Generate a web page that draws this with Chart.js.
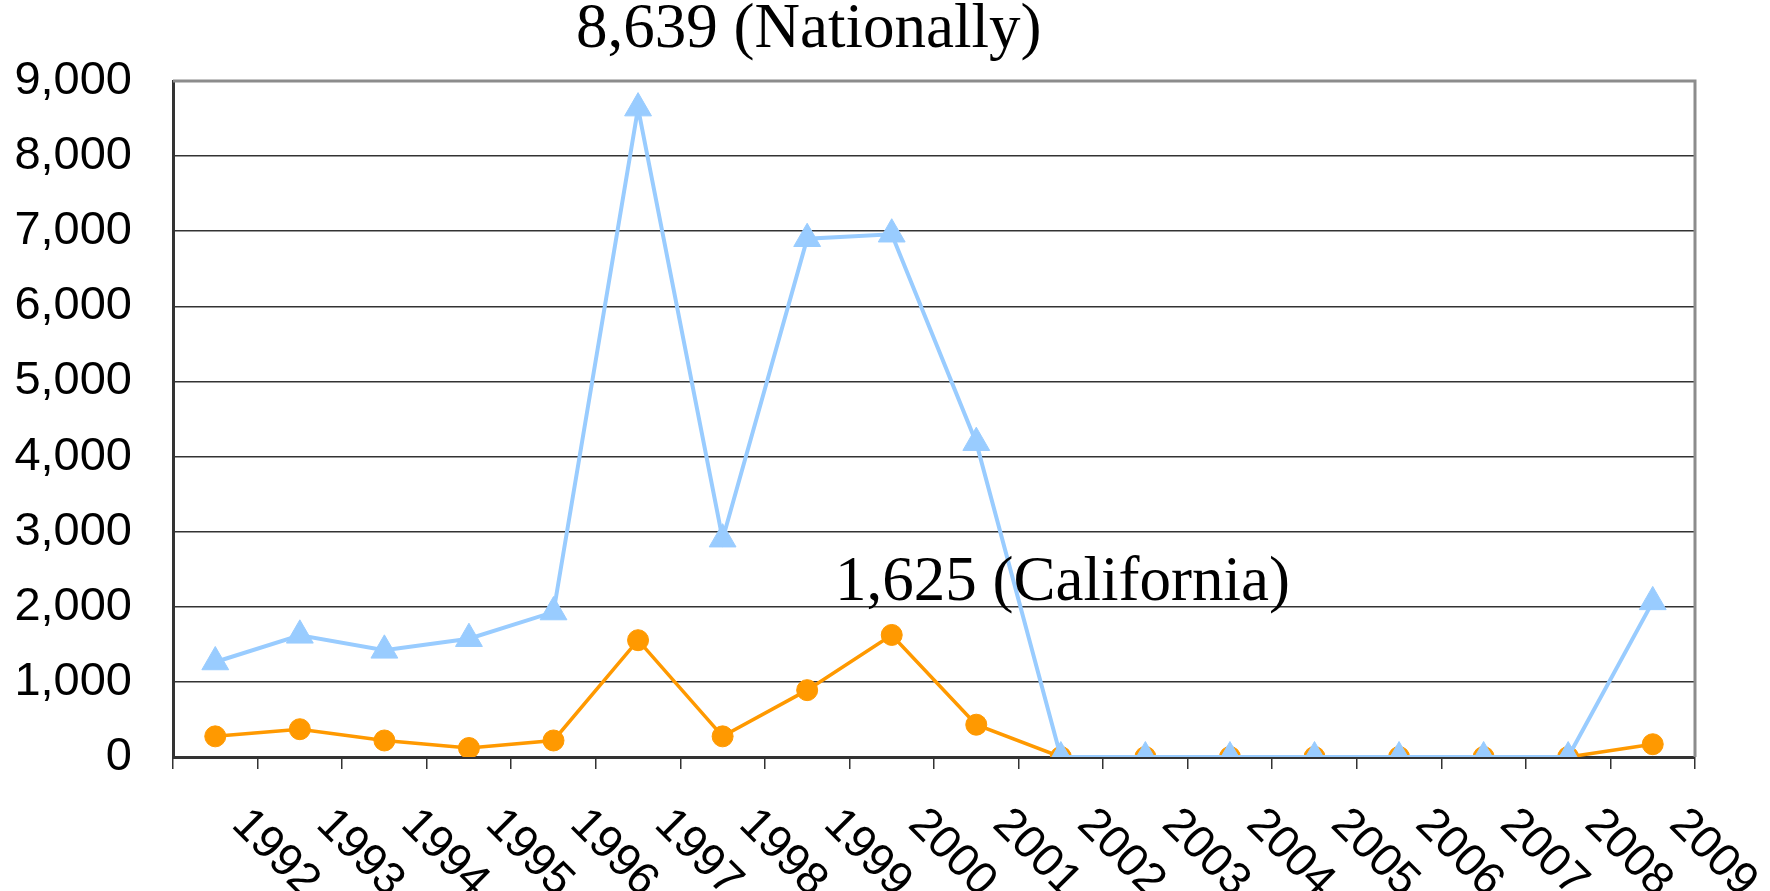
<!DOCTYPE html>
<html>
<head>
<meta charset="utf-8">
<style>
  html, body { margin: 0; padding: 0; background: #fff; }
  #wrap { width: 1770px; height: 891px; position: relative; }
</style>
</head>
<body>
<div id="wrap"><canvas id="grafico"></canvas></div>

<script src="https://cdn.jsdelivr.net/npm/chart.js"></script>
<script>
// Dados
const anos = ['1992','1993','1994','1995','1996','1997','1998','1999','2000',
              '2001','2002','2003','2004','2005','2006','2007','2008','2009'];
const nacional = [1265, 1620, 1420, 1575, 1930, 8639, 2900, 6900, 6960,
                  4185, 0, 0, 0, 0, 0, 0, 0, 2065];
const california = [275, 370, 220, 120, 220, 1555, 275, 890, 1625,
                    430, 0, 0, 0, 0, 0, 0, 0, 170];
const yTicks = [0, 1000, 2000, 3000, 4000, 5000, 6000, 7000, 8000, 9000];
const notas = ['8,639 (Nationally)', '1,625 (California)'];

const fonteEixoX = '46px "Liberation Sans", Arial, sans-serif';
const fonteNota = '63px "Liberation Serif", "Times New Roman", serif';

// Bordas superior e direita em cinza, como no Excel
const bordaPlugin = {
  id: 'borda',
  afterDraw(chart) {
    const { ctx, chartArea: a } = chart;
    ctx.save();
    ctx.strokeStyle = '#8c8c8c';
    ctx.lineWidth = 3;
    ctx.beginPath();
    ctx.moveTo(a.left, a.top);
    ctx.lineTo(a.right, a.top);
    ctx.lineTo(a.right, a.bottom);
    ctx.stroke();
    ctx.restore();
  }
};

// Rótulos do eixo X girados 45 graus (sentido horário)
const rotulosPlugin = {
  id: 'rotulos',
  afterDraw(chart) {
    const { ctx } = chart;
    const x = chart.scales.x;
    const base = chart.chartArea.bottom;
    ctx.save();
    ctx.font = fonteEixoX;
    ctx.fillStyle = '#000';
    ctx.textAlign = 'left';
    ctx.textBaseline = 'alphabetic';
    anos.forEach((ano, i) => {
      const px = x.getPixelForValue(i);
      ctx.save();
      ctx.translate(px + 15, base + 69);
      ctx.rotate(Math.PI / 4);
      ctx.fillText(ano, 0, 0);
      ctx.restore();
    });
    ctx.restore();
  }
};

// Anotações em fonte serifada
const notasPlugin = {
  id: 'notas',
  afterDraw(chart) {
    const { ctx } = chart;
    ctx.save();
    ctx.font = fonteNota;
    ctx.fillStyle = '#000';
    ctx.textAlign = 'left';
    ctx.textBaseline = 'alphabetic';
    ctx.fillText(notas[0], 576, 47);
    ctx.fillText(notas[1], 835, 600);
    ctx.restore();
  }
};

const ctx = document.getElementById('grafico').getContext('2d');
new Chart(ctx, {
  type: 'line',
  data: {
    labels: anos,
    datasets: [
      {
        label: 'Nationally',
        data: nacional,
        borderColor: '#99ccff',
        backgroundColor: '#99ccff',
        borderWidth: 4,
        pointStyle: 'triangle',
        pointRadius: 15.5,
        pointBorderWidth: 1,
        pointBorderColor: '#99ccff',
        pointBackgroundColor: '#99ccff',
        tension: 0
      },
      {
        label: 'California',
        data: california,
        borderColor: '#ff9900',
        backgroundColor: '#ff9900',
        borderWidth: 3.5,
        pointStyle: 'circle',
        pointRadius: 10.5,
        pointBorderWidth: 1,
        pointBorderColor: '#ff9900',
        pointBackgroundColor: '#ff9900',
        tension: 0
      }
    ]
  },
  options: {
    responsive: true,
    maintainAspectRatio: false,
    animation: false,
    layout: { padding: { top: 81, right: 75, left: 0, bottom: 0 } },
    plugins: {
      legend: { display: false },
      title: { display: false },
      tooltip: { enabled: false }
    },
    scales: {
      x: {
        type: 'category',
        offset: true,
        grid: {
          offset: true,
          drawOnChartArea: false,
          drawTicks: true,
          tickLength: 12,
          color: '#333',
          lineWidth: 1.5
        },
        border: { display: true, color: '#333', width: 3 },
        ticks: { display: false },
        afterFit(scale) { scale.height = 134; }
      },
      y: {
        min: 0,
        max: 9000,
        afterBuildTicks(scale) { scale.ticks = yTicks.map(v => ({ value: v })); },
        grid: {
          color: '#333',
          lineWidth: 1.5,
          drawTicks: false
        },
        border: { display: true, color: '#333', width: 3 },
        ticks: {
          padding: 41,
          color: '#000',
          font: { family: '"Liberation Sans", Arial, sans-serif', size: 47 },
          callback: v => v.toLocaleString('en-US')
        },
        afterFit(scale) { scale.width = 173; }
      }
    }
  },
  plugins: [bordaPlugin, rotulosPlugin, notasPlugin]
});
</script>
</body>
</html>
